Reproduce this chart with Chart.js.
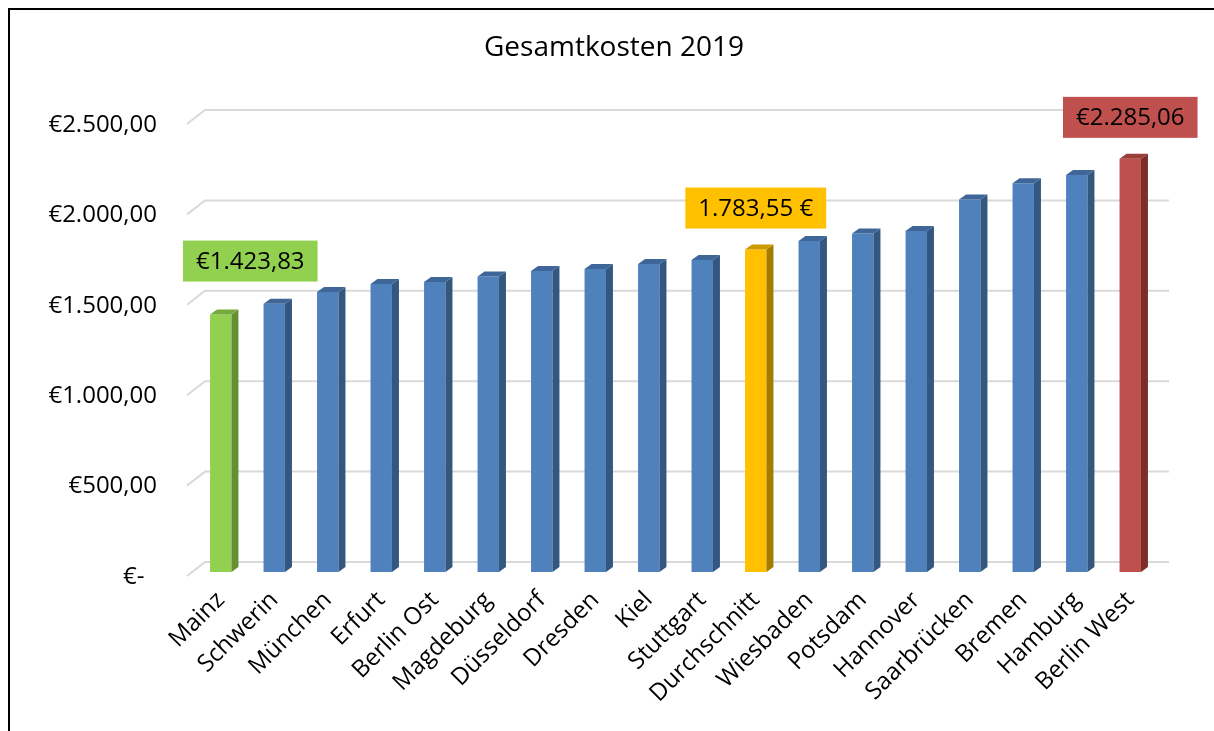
<!DOCTYPE html>
<html>
<head>
<meta charset="utf-8">
<script src="https://cdn.jsdelivr.net/npm/chart.js@4"></script>
<style>
  body { margin: 0; background: #fff; }
</style>
</head>
<body>
<canvas id="costChart" width="1214" height="731"></canvas>
<script>
// Gesamtkosten 2019 - 3D-look column chart
const categories = [
  'Mainz', 'Schwerin', 'München', 'Erfurt', 'Berlin Ost', 'Magdeburg',
  'Düsseldorf', 'Dresden', 'Kiel', 'Stuttgart', 'Durchschnitt', 'Wiesbaden',
  'Potsdam', 'Hannover', 'Saarbrücken', 'Bremen', 'Hamburg', 'Berlin West'
];
const costs = [
  1423.83, 1484, 1549, 1593, 1604, 1634,
  1665, 1676, 1704, 1726, 1783.55, 1831,
  1872, 1886, 2060, 2150, 2196, 2285.06
];
const yTicks = [0, 500, 1000, 1500, 2000, 2500];
// bars with a coloured value box
const highlights = {
  'Mainz': '€1.423,83',
  'Durchschnitt': '1.783,55 €',
  'Berlin West': '€2.285,06'
};

// colours: front, side, top
const palette = {
  blue:   ['#4F81BD', '#34577F', '#3E6699'],
  green:  ['#92D050', '#648F33', '#76AA3D'],
  yellow: ['#FFC000', '#A57C00', '#CC9900'],
  red:    ['#C0504D', '#7D2E2C', '#9B3D3A']
};
const barColour = name => {
  if (name === 'Mainz') return 'green';
  if (name === 'Durchschnitt') return 'yellow';
  if (name === 'Berlin West') return 'red';
  return 'blue';
};
const colourKeys = categories.map(barColour);

const FONT = "'Open Sans', sans-serif";
const DEPTH_X = 7, DEPTH_Y = 5;

function euro(v) {
  if (v === 0) return '€-\u00A0\u00A0';
  const parts = v.toFixed(2).split('.');
  const whole = parts[0].replace(/\B(?=(\d{3})+(?!\d))/g, '.');
  return '€' + whole + ',' + parts[1];
}

const depthPlugin = {
  id: 'depth',
  beforeDatasetsDraw(chart) {
    const { ctx, chartArea, scales } = chart;
    ctx.save();
    ctx.strokeStyle = '#D9D9D9';
    ctx.lineWidth = 2;
    yTicks.forEach(v => {
      const y = scales.y.getPixelForValue(v);
      ctx.beginPath();
      ctx.moveTo(chartArea.left - 7, y + 4);
      ctx.lineTo(chartArea.left + 11, y - 10);
      ctx.lineTo(chartArea.right + 12, y - 10);
      ctx.stroke();
    });
    ctx.restore();
  },
  afterDatasetsDraw(chart) {
    const { ctx } = chart;
    const meta = chart.getDatasetMeta(0);
    ctx.save();
    meta.data.forEach((bar, i) => {
      const cols = palette[colourKeys[i]];
      const l = bar.x - bar.width / 2, r = bar.x + bar.width / 2;
      // side face
      ctx.fillStyle = cols[1];
      ctx.beginPath();
      ctx.moveTo(r, bar.y);
      ctx.lineTo(r + DEPTH_X, bar.y - DEPTH_Y);
      ctx.lineTo(r + DEPTH_X, bar.base - DEPTH_Y);
      ctx.lineTo(r, bar.base);
      ctx.closePath();
      ctx.fill();
      // top face
      ctx.fillStyle = cols[2];
      ctx.beginPath();
      ctx.moveTo(l, bar.y);
      ctx.lineTo(l + DEPTH_X, bar.y - DEPTH_Y);
      ctx.lineTo(r + DEPTH_X, bar.y - DEPTH_Y);
      ctx.lineTo(r, bar.y);
      ctx.closePath();
      ctx.fill();
    });
    ctx.restore();
  },
  afterDraw(chart) {
    const { ctx, chartArea } = chart;
    const meta = chart.getDatasetMeta(0);
    ctx.save();
    // value boxes
    ctx.font = '24px ' + FONT;
    ctx.textAlign = 'center';
    ctx.textBaseline = 'middle';
    categories.forEach((name, i) => {
      const text = highlights[name];
      if (!text) return;
      const bar = meta.data[i];
      const w = ctx.measureText(text).width + 26;
      const h = 41;
      let cx = bar.x;
      if (cx - w / 2 < chartArea.left - 11) cx = chartArea.left - 11 + w / 2;
      const lift = i === 0 ? 33 : 21;
      const bottom = bar.y - lift;
      ctx.fillStyle = palette[colourKeys[i]][0];
      ctx.fillRect(cx - w / 2, bottom - h, w, h);
      ctx.fillStyle = '#000';
      ctx.fillText(text, cx, bottom - h / 2 + 1);
    });
    // title
    ctx.font = '28px ' + FONT;
    ctx.fillText('Gesamtkosten 2019', 614, 48);
    // frame
    ctx.strokeStyle = '#000';
    ctx.lineWidth = 2;
    ctx.beginPath();
    ctx.moveTo(9, 731);
    ctx.lineTo(9, 9);
    ctx.lineTo(1214, 9);
    ctx.stroke();
    ctx.restore();
  }
};

const barData = {
  labels: categories,
  datasets: [{
    data: costs,
    backgroundColor: colourKeys.map(k => palette[k][0]),
    borderWidth: 0,
    barPercentage: 0.4,
    categoryPercentage: 1
  }]
};

const configBar = {
  type: 'bar',
  data: barData,
  options: {
    responsive: false,
    animation: false,
    layout: { padding: { top: 120, right: 57, bottom: 0, left: 0 } },
    plugins: {
      legend: { display: false },
      tooltip: { enabled: false }
    },
    scales: {
      x: {
        grid: { display: false, drawTicks: false },
        border: { display: false },
        ticks: {
          autoSkip: false,
          minRotation: 45,
          maxRotation: 45,
          padding: 14,
          color: '#000',
          font: { family: FONT, size: 24 }
        },
        afterFit: s => { s.height = 159; }
      },
      y: {
        min: 0,
        max: 2500,
        grid: { display: false, drawTicks: false },
        border: { display: false },
        ticks: {
          stepSize: 500,
          padding: 37,
          labelOffset: 5,
          color: '#000',
          font: { family: FONT, size: 24 },
          callback: v => euro(v)
        },
        afterFit: s => { s.width = 194; }
      }
    }
  },
  plugins: [depthPlugin]
};

var costCanvas = document.getElementById('costChart');
let chart1 = new Chart(costCanvas, configBar);
</script>
</body>
</html>
